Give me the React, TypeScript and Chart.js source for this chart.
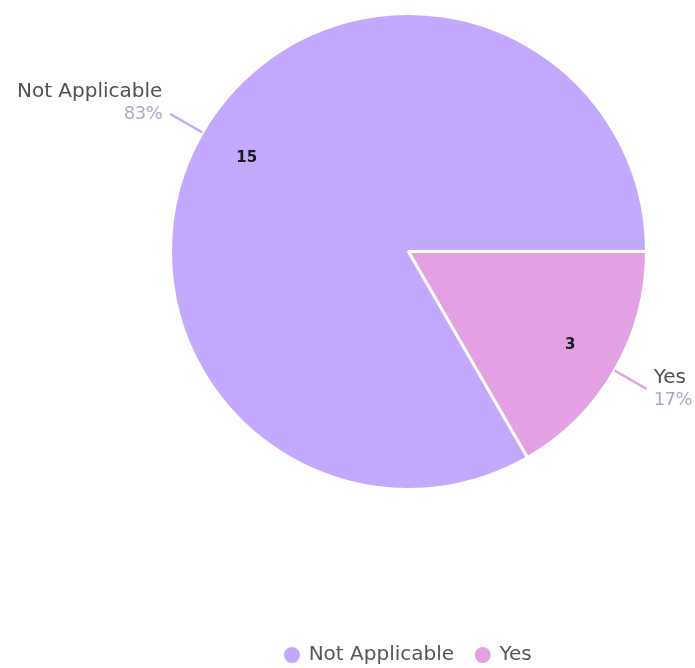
import React, { useEffect, useRef } from 'react';
import { Chart, registerables } from 'chart.js';

Chart.register(...registerables);

const categories = ['Not Applicable', 'Yes'];
const counts = [15, 3];
const sliceColors = ['#c4a8fe', '#e3a0e3'];

const FONT = '"DejaVu Sans", sans-serif';

const sliceLabels = {
  id: 'sliceLabels',
  afterDatasetsDraw(chart: any) {
    const ctx = chart.ctx;
    const meta = chart.getDatasetMeta(0);
    const data = chart.data.datasets[0].data as number[];
    const labels = chart.data.labels as string[];
    const total = data.reduce((a, b) => a + b, 0);
    meta.data.forEach((arc: any, i: number) => {
      const { x, y, startAngle, endAngle, outerRadius } = arc.getProps(
        ['x', 'y', 'startAngle', 'endAngle', 'outerRadius'],
        true
      );
      const mid = (startAngle + endAngle) / 2;
      const cos = Math.cos(mid);
      const sin = Math.sin(mid);
      ctx.save();
      // value inside slice
      ctx.fillStyle = '#1a1a1a';
      ctx.font = `bold 15px ${FONT}`;
      ctx.textAlign = 'center';
      ctx.textBaseline = 'middle';
      const ir = outerRadius * 0.785;
      ctx.fillText(String(data[i]), x + cos * ir, y + sin * ir);
      // leader line
      const x1 = x + cos * outerRadius;
      const y1 = y + sin * outerRadius;
      const x2 = x + cos * (outerRadius + 37);
      const y2 = y + sin * (outerRadius + 37);
      ctx.strokeStyle = sliceColors[i];
      ctx.lineWidth = 2.5;
      ctx.beginPath();
      ctx.moveTo(x1, y1);
      ctx.lineTo(x2, y2);
      ctx.stroke();
      // outer text
      const right = cos >= 0;
      const tx = x2 + (right ? 7 : -8);
      const off = sin < 0 ? -11 : 0;
      ctx.textAlign = right ? 'left' : 'right';
      ctx.font = `20px ${FONT}`;
      ctx.fillStyle = '#505050';
      ctx.fillText(labels[i], tx, y2 - 11 + off);
      ctx.font = `18px ${FONT}`;
      (ctx as any).letterSpacing = '-0.5px';
      ctx.fillStyle = '#a9a8c6';
      ctx.fillText(Math.round((data[i] / total) * 100) + '%', tx, y2 + 11 + off);
      ctx.restore();
    });
  },
};

export default function App() {
  const ref = useRef<HTMLCanvasElement | null>(null);
  useEffect(() => {
    if (!ref.current) return;
    const chart = new Chart(ref.current, {
      type: 'pie',
      data: {
        labels: categories,
        datasets: [
          {
            data: counts,
            backgroundColor: sliceColors,
            borderColor: '#ffffff',
            borderWidth: 3,
            hoverOffset: 0,
          },
        ],
      },
      options: {
        animation: false,
        responsive: true,
        maintainAspectRatio: false,
        rotation: 150,
        layout: { padding: { top: 12, left: 169, right: 47, bottom: -7 } },
        plugins: {
          tooltip: { enabled: false },
          legend: {
            position: 'bottom',
            title: { display: true, text: '', font: { size: 10 }, padding: { top: 120, bottom: 0 } },
            labels: {
              usePointStyle: true,
              pointStyle: 'circle',
              boxWidth: 13.4,
              boxHeight: 13.4,
              padding: 22,
              color: '#555555',
              font: { family: FONT, size: 20 },
            },
          },
        },
      },
      plugins: [sliceLabels],
    });
    return () => chart.destroy();
  }, []);
  return (
    <div style={{ position: 'fixed', left: 0, top: 0, width: 695, height: 668, background: '#fff' }}>
      <canvas ref={ref} />
    </div>
  );
}
